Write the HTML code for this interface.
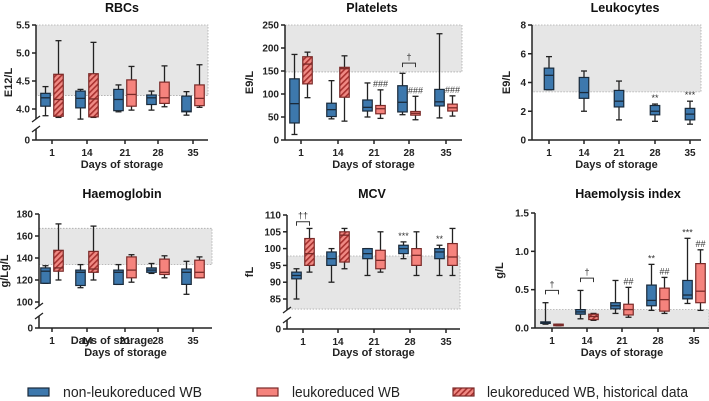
<!DOCTYPE html>
<html><head><meta charset="utf-8"><style>
html,body{margin:0;padding:0;background:#fff;}
svg{display:block;font-family:"Liberation Sans",Arial,sans-serif;}
.tick{font-size:10px;font-weight:bold;fill:#222;}
.ttl{font-size:12.5px;font-weight:bold;fill:#111;}
.lab{font-size:11px;font-weight:bold;fill:#222;}
.ann{font-size:9px;fill:#333;}
.leg{font-size:15px;fill:#222;}
</style></head><body>
<svg id="chart" width="709" height="401" viewBox="0 0 709 401">
<defs>
<pattern id="hatch" patternUnits="userSpaceOnUse" width="4" height="4" patternTransform="rotate(45)">
<rect width="4" height="4" fill="#f08a84"/><rect width="1.6" height="4" fill="#a8312f"/>
</pattern>
</defs>
</svg>
<script>
const days=["1","14","21","28","35"];
// [min,q1,median,q3,max]
const rbcBlue=[[3.88,4.05,4.20,4.28,4.40],[3.82,4.02,4.19,4.32,4.35],[3.95,3.97,4.17,4.35,4.43],[3.98,4.08,4.20,4.25,4.32],[3.89,3.95,3.96,4.23,4.31]];
const rbcRed=[[3.85,3.87,4.17,4.62,5.22],[3.85,3.86,4.18,4.63,5.19],[3.98,4.05,4.26,4.52,4.76],[4.04,4.10,4.20,4.48,4.77],[4.03,4.06,4.19,4.43,4.79]];
const pltBlue=[[12,37,79,133,186],[46,51,66,80,129],[50,63,71,87,124],[55,61,82,118,145],[48,74,83,110,231]];
const pltRed=[[92,122,165,181,191],[41,93,155,158,183],[47,57,68,75,109],[44,54,58,62,95],[52,63,70,78,96]];
const leuBlue=[[3.5,3.5,4.5,5.0,5.8],[2.0,2.9,3.3,4.35,4.8],[1.4,2.3,2.7,3.45,4.1],[1.3,1.75,2.0,2.4,2.5],[1.1,1.4,1.8,2.2,2.7]];
const hbBlue=[[117,117,128,131,133],[113,115,127,129,134],[116,116,127,129,134],[126,127,129,131,135],[107,116,127,130,137]];
const hbRed=[[120,128,131,147,171],[120,127,130,146,169],[118,122,129,141,143],[122,125,127,139,142],[122,122,127,138,141]];
const mcvBlue=[[85,91,92,93,94],[90,95,97,99,100],[92,97,98.5,100,100],[97,98.5,100,101,102],[92,97,99,100,101]];
const mcvRed=[[93,95,98.5,103,106],[94,96,104,105,106],[93,94,96.5,99.5,105],[92,95,98,100,105],[92,95,97.5,101.5,106]];
const hemBlue=[[0.05,0.06,0.07,0.08,0.33],[0.12,0.18,0.21,0.24,0.49],[0.19,0.25,0.29,0.33,0.62],[0.23,0.29,0.36,0.56,0.83],[0.32,0.38,0.43,0.62,1.17]];
const hemRed=[[0.03,0.03,0.04,0.05,0.05],[0.10,0.11,0.15,0.18,0.19],[0.14,0.17,0.24,0.31,0.53],[0.19,0.22,0.37,0.52,0.66],[0.23,0.33,0.48,0.84,1.02]];
const refBands=[[4.24,5.5],[148,250],[3.35,8],[134,167],[82,97.8],[0,0.24]];

const NS="http://www.w3.org/2000/svg";
const svg=document.getElementById('chart');
function mk(tag,attrs,parent){const e=document.createElementNS(NS,tag);for(const k in attrs)e.setAttribute(k,attrs[k]);(parent||svg).appendChild(e);return e;}

function panel(cfg){
  const g=mk('g',{});
  
  
  const y=v=>cfg.yTop+(cfg.dMax-v)/(cfg.dMax-cfg.dMin)*(cfg.yLow-cfg.yTop);
  const yz=cfg.yZero;
  const x=i=>cfg.cats[i];
  const b=cfg.band;
  const band=mk('rect',{x:cfg.ax,y:y(b[1]),width:cfg.xEnd-cfg.ax,height:y(b[0])-y(b[1]),fill:'#e6e6e6',stroke:'#aaa','stroke-width':0.8,'stroke-dasharray':'1.5,1.5'},g);
  
  
  const axBottom=cfg.brk?cfg.brk[0]:yz;
  mk('line',{x1:cfg.ax,y1:cfg.yTop,x2:cfg.ax,y2:axBottom,stroke:'#222','stroke-width':1.5},g);
  if(cfg.brk){
    mk('line',{x1:cfg.ax,y1:cfg.brk[1],x2:cfg.ax,y2:yz,stroke:'#222','stroke-width':1.5},g);
    for(const yy of cfg.brk) mk('line',{x1:cfg.ax-4,y1:yy+3,x2:cfg.ax+4,y2:yy-3,stroke:'#222','stroke-width':1.3},g);
    mk('line',{x1:cfg.ax-4,y1:yz,x2:cfg.ax,y2:yz,stroke:'#222','stroke-width':1.5},g);
    const t=mk('text',{x:cfg.ax-6,y:yz+3.5,'text-anchor':'end',class:'tick'},g);t.textContent='0';
    
  }
  mk('line',{x1:cfg.ax,y1:yz,x2:cfg.xEnd,y2:yz,stroke:'#222','stroke-width':1.5},g);
  cfg.yticks.forEach((v,i)=>{
    mk('line',{x1:cfg.ax-4,y1:y(v),x2:cfg.ax,y2:y(v),stroke:'#222','stroke-width':1.5},g);
    const t=mk('text',{x:cfg.ax-6,y:y(v)+3.5,'text-anchor':'end',class:'tick'},g);
    t.textContent=cfg.ylabels[i];
    
  });
  days.forEach((d,i)=>{
    mk('line',{x1:x(i),y1:yz,x2:x(i),y2:yz+4,stroke:'#222','stroke-width':1.5},g);
    const t=mk('text',{x:x(i),y:yz+16,'text-anchor':'middle',class:'tick'},g);t.textContent=d;
    
  });
  const tt=mk('text',{x:cfg.titleX,y:cfg.titleY,'text-anchor':'middle',class:'ttl'},g);tt.textContent=cfg.title;
  
  const xl=mk('text',{x:(cfg.ax+cfg.xEnd)/2,y:cfg.xlabY,'text-anchor':'middle',class:'lab'},g);xl.textContent='Days of storage';
  
  const ym=(cfg.yTop+yz)/2;
  const yl=mk('text',{x:cfg.ylabX,y:ym,'text-anchor':'middle',class:'lab',transform:`rotate(-90 ${cfg.ylabX} ${ym})`},g);yl.textContent=cfg.ylab;
  
  cfg.series.forEach(s=>{
    s.data.forEach((q,i)=>{
      const cx=x(i)+s.off;const w=9.5;
      const hatched=s.hatchN && i<s.hatchN;
      const bg=mk('g',{},g);
      
      
      mk('line',{x1:cx,y1:y(q[0]),x2:cx,y2:y(q[4]),stroke:'#222','stroke-width':1.3},bg);
      mk('line',{x1:cx-3,y1:y(q[0]),x2:cx+3,y2:y(q[0]),stroke:'#222','stroke-width':1.3},bg);
      mk('line',{x1:cx-3,y1:y(q[4]),x2:cx+3,y2:y(q[4]),stroke:'#222','stroke-width':1.3},bg);
      mk('rect',{x:cx-w/2,y:y(q[3]),width:w,height:Math.max(1,y(q[1])-y(q[3])),fill:hatched?'url(#hatch)':s.color,stroke:s.stroke,'stroke-width':1.2},bg);
      mk('line',{x1:cx-w/2,y1:y(q[2]),x2:cx+w/2,y2:y(q[2]),stroke:s.stroke,'stroke-width':1.3},bg);
    });
  });
  (cfg.anns||[]).forEach(a=>{
    const s=cfg.series[a[1]];const q=s.data[a[0]];
    const t=mk('text',{x:x(a[0])+s.off,y:y(q[4])-3,'text-anchor':'middle',class:'ann'},g);t.textContent=a[2];
    
  });
  (cfg.brackets||[]).forEach(br=>{
    const x1=x(br[0])-6.5,x2=x(br[0])+6.5,yy=y(br[1]);
    mk('path',{d:`M${x1},${yy+4}V${yy}H${x2}V${yy+4}`,fill:'none',stroke:'#333','stroke-width':1},g);
    const t=mk('text',{x:x(br[0]),y:yy-3,'text-anchor':'middle',class:'ann'},g);t.textContent=br[2];
    
  });
  return {y,x};
}
const B={key:'non-leukoreduced',color:'#3d78ad',stroke:'#1a2a3a'};
const R={key:'leukoreduced',color:'#f5837d',stroke:'#7a2a28'};
const c1=[52,87,125,158,193],c2=[301,338,374,409,446],c3=[549,584,619,655,690],c5=[303,338,374,410,446],c6=[552,587,622,658,694];

panel({name:'rbcs',title:'RBCs',titleX:122,titleY:12,ax:36,xEnd:208,yTop:25,yLow:109,dMax:5.5,dMin:4.0,yZero:140,brk:[119,129],band:refBands[0],
 yticks:[4.0,4.5,5.0,5.5],ylabels:['4.0','4.5','5.0','5.5'],cats:c1,xlabY:168,ylab:'E12/L',ylabX:12,
 series:[Object.assign({data:rbcBlue,off:-6.5},B),Object.assign({data:rbcRed,off:6.5,hatchN:2},R)]});
panel({name:'platelets',title:'Platelets',titleX:372,titleY:12,ax:285,xEnd:462,yTop:25,yLow:140,dMax:250,dMin:0,yZero:140,band:refBands[1],
 yticks:[0,50,100,150,200,250],ylabels:['0','50','100','150','200','250'],cats:c2,xlabY:168,ylab:'E9/L',ylabX:253,
 series:[Object.assign({data:pltBlue,off:-6.5},B),Object.assign({data:pltRed,off:6.5,hatchN:2},R)],
 anns:[[2,1,'###'],[3,1,'###'],[4,1,'###']],brackets:[[3,167,'†']]});
panel({name:'leukocytes',title:'Leukocytes',titleX:625,titleY:12,ax:532,xEnd:701,yTop:25,yLow:140,dMax:8,dMin:0,yZero:140,band:refBands[2],
 yticks:[0,2,4,6,8],ylabels:['0','2','4','6','8'],cats:c3,xlabY:168,ylab:'E9/L',ylabX:510,
 series:[Object.assign({data:leuBlue,off:0},B)],anns:[[3,0,'**'],[4,0,'***']]});
panel({name:'haemoglobin',title:'Haemoglobin',titleX:122,titleY:198,ax:39,xEnd:212,yTop:214,yLow:302,dMax:180,dMin:100,yZero:328,brk:[306,316],band:refBands[3],
 yticks:[100,120,140,160,180],ylabels:['100','120','140','160','180'],cats:c1,xlabY:356,ylab:'g/Lg/L',ylabX:8,
 series:[Object.assign({data:hbBlue,off:-6.5},B),Object.assign({data:hbRed,off:6.5,hatchN:2},R)]});
const ov=mk('text',{x:112,y:344,'text-anchor':'middle',class:'lab'});ov.textContent='Days of storage';


panel({name:'mcv',title:'MCV',titleX:372,titleY:198,ax:287,xEnd:460,yTop:215,yLow:299,dMax:110,dMin:85,yZero:329,brk:[310,320],band:refBands[4],
 yticks:[85,90,95,100,105,110],ylabels:['85','90','95','100','105','110'],cats:c5,xlabY:356,ylab:'fL',ylabX:253,
 series:[Object.assign({data:mcvBlue,off:-6.5},B),Object.assign({data:mcvRed,off:6.5,hatchN:2},R)],
 anns:[[3,0,'***'],[4,0,'**']],brackets:[[0,108,'††']]});
panel({name:'haemolysis',title:'Haemolysis index',titleX:628,titleY:198,ax:535,xEnd:709,yTop:213,yLow:328,dMax:1.5,dMin:0,yZero:328,band:refBands[5],
 yticks:[0,0.5,1.0,1.5],ylabels:['0.0','0.5','1.0','1.5'],cats:c6,xlabY:356,ylab:'g/L',ylabX:503,
 series:[Object.assign({data:hemBlue,off:-6.5},B),Object.assign({data:hemRed,off:6.5,hatchN:2},R)],
 anns:[[2,1,'##'],[3,0,'**'],[3,1,'##'],[4,0,'***'],[4,1,'##']],brackets:[[0,0.49,'†'],[1,0.65,'†']]});

// legend
const L=mk('g',{});


const legItems=[[28,'#3d78ad','#1a2a3a','non-leukoreduced WB',63,139],[257,'#f5837d','#7a2a28','leukoreduced WB',292,108],[453,'url(#hatch)','#7a2a28','leukoreduced WB, historical data',487,201]];
legItems.forEach(it=>{
  const e=mk('g',{},L);
  
  
  mk('rect',{x:it[0],y:388,width:21,height:8,fill:it[1],stroke:it[2],'stroke-width':1.2},e);
  const t=mk('text',{x:it[4],y:397,class:'leg',textLength:it[5],lengthAdjust:'spacingAndGlyphs'},e);t.textContent=it[3];
});
</script>
</body></html>
